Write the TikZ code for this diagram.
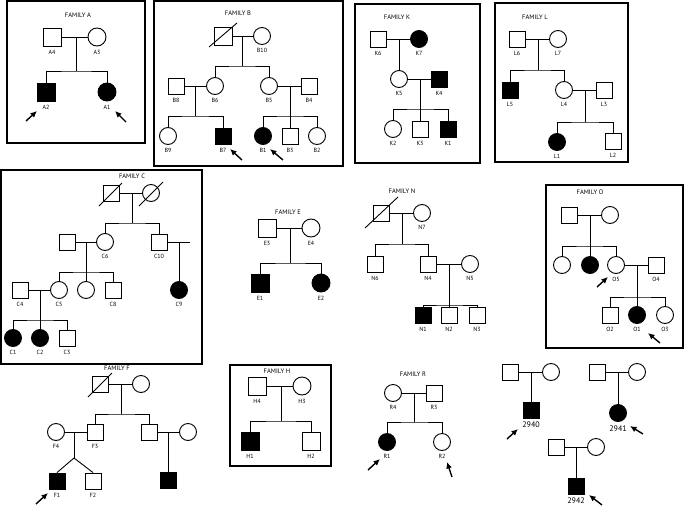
\documentclass[tikz,border=0pt]{standalone}
\usepackage{fontspec}
\setmainfont{PT Sans}
\usetikzlibrary{arrows.meta}

\begin{document}
\begin{tikzpicture}[x=1pt, y=-1pt, line width=0.9pt,
        male/.style={draw, rectangle, minimum size=16pt, inner sep=0pt},
        female/.style={draw, circle, minimum size=17pt, inner sep=0pt},
        affected/.style={fill=black},
        large/.style={minimum size=18pt},
        label distance=3pt,
        every label/.style={font=\fontsize{6}{7}\selectfont, inner sep=0pt},
        famname/.style={font=\fontsize{6.5}{7}\selectfont, inner sep=0pt},
        idnum/.style={font=\fontsize{8}{9}\selectfont},
        proband/.style={-{Latex[length=6.5pt, width=6pt]}, line width=1.4pt},
        famBox/.style={draw, line width=1.1pt}]

    \useasboundingbox (0,0) rectangle (685,506);

    % Family A
    \draw[famBox] (7,1) rectangle (145,143);
    \node[famname] (famA) at (78,15) {FAMILY A};
    \node[male, large, label=below:A4] (a4) at (52,37) {};
    \node[female, large, label=below:A3] (a3) at (97,37) {};
    \node[male, large, affected, label=below:A2] (a2) at (46,92) {};
    \node[female, large, affected, label=below:A1] (a1) at (107,92) {};
    \coordinate (a43) at (76,37);
    \coordinate (asib) at (76,71);
    \draw (a4) -- (a3);
    \draw (a43) -- (asib);
    \draw (a2) |- (asib) -| (a1);
    \draw[proband] ([shift={(-20,29)}]a2.center) -- ([shift={(-9,19)}]a2.center);
    \draw[proband] ([shift={(19,30)}]a1.center) -- ([shift={(8,19)}]a1.center);

    % Family B
    \draw[famBox] (154,1) rectangle (343,166);
    \node[famname] (famB) at (238,13) {FAMILY B};
    \node[male, large] (b11) at (223,36) {};
    \draw ([shift={(-14,11)}]b11.center) -- ([shift={(14,-13)}]b11.center);
    \node[female, label=below:B10] (b10) at (262,36) {};
    \node[female, label=below:B6] (b6) at (215,86) {};
    \node[female, label=below:B5] (b5) at (269,86) {};
    \node[male, label=below:B8] (b8) at (176,86) {};
    \node[male, label=below:B4] (b4) at (309,86) {};
    \node[female, label=below:B9] (b9) at (168,136) {};
    \node[male, affected, label=below:B7] (b7) at (223,136) {};
    \node[female, affected, label=below:B1] (b1) at (263,136) {};
    \node[male, label=below:B3] (b3) at (290,136) {};
    \node[female, label=below:B2] (b2) at (317,136) {};
    \coordinate (b1110) at (242,36);
    \coordinate (bsib1) at (242,66);
    \coordinate (b86) at (195,86);
    \coordinate (bsib2) at (195,116);
    \coordinate (b54) at (290,86);
    \coordinate (bsib3) at (290,116);
    \draw (b11) -- (b10);
    \draw (b1110) -- (bsib1);
    \draw (b6) |- (bsib1) -| (b5);
    \draw (b8) -- (b6);
    \draw (b5) -- (b4);
    \draw (b86) -- (bsib2);
    \draw (b9) |- (bsib2) -| (b7);
    \draw (b54) -- (b3);
    \draw (b1) |- (bsib3) -| (b2);
    \draw[proband] ([shift={(19,24)}]b7.center) -- ([shift={(7,13)}]b7.center);
    \draw[proband] ([shift={(20,24)}]b1.center) -- ([shift={(7,13)}]b1.center);

    % Family K
    \draw[famBox] (355,4) rectangle (480,163);
    \node[famname] (famK) at (397,17) {FAMILY K};
    \node[male, label=below:K6] (k6) at (378,39) {};
    \node[female, affected, label=below:K7] (k7) at (419,39) {};
    \node[female, label=below:K5] (k5) at (399,79) {};
    \node[male, affected, label=below:K4] (k4) at (439,79) {};
    \node[female, label=below:K2] (k2) at (393,129) {};
    \node[male, label=below:K3] (k3) at (420,129) {};
    \node[male, affected, label=below:K1] (k1) at (448,129) {};
    \coordinate (k67) at (399,39);
    \coordinate (k54) at (420,79);
    \coordinate (ksib) at (420,109);
    \draw (k6) -- (k7);
    \draw (k67) -- (k5);
    \draw (k5) -- (k4);
    \draw (k54) -- (k3);
    \draw (k2) |- (ksib) -| (k1);

    % Family L
    \draw[famBox] (495,3) rectangle (628,162);
    \node[famname] (famL) at (535,17) {FAMILY L};
    \node[male, label=below:L6] (l6) at (517,39) {};
    \node[female, label=below:L7] (l7) at (558,39) {};
    \node[male, affected, label=below:L5] (l5) at (510,90) {};
    \node[female, label=below:L4] (l4) at (564,90) {};
    \node[male, label=below:L3] (l3) at (604,90) {};
    \node[female, affected, label=below:L1] (l1) at (557,142) {};
    \node[male, label=below:L2] (l2) at (613,141) {};
    \coordinate (l67) at (538,39);
    \coordinate (lsib1) at (538,70);
    \coordinate (l43) at (585,90);
    \coordinate (lsib2) at (585,122);
    \draw (l6) -- (l7);
    \draw (l67) -- (lsib1);
    \draw (l5) |- (lsib1) -| (l4);
    \draw (l4) -- (l3);
    \draw (l43) -- (lsib2);
    \draw (l1) |- (lsib2) -| (l2);

    % Family C
    \draw[famBox] (1,170) rectangle (202,364);
    \node[famname] (famC) at (132,176) {FAMILY C};
    \node[male] (c12) at (111,193) {};
    \draw ([shift={(-12,13)}]c12.center) -- ([shift={(11,-10)}]c12.center);
    \node[female] (c11) at (151,193) {};
    \draw ([shift={(-12,13)}]c11.center) -- ([shift={(12,-11)}]c11.center);
    \node[male] (c7) at (67,242) {};
    \node[female, label=below:C6] (c6) at (105,242) {};
    \node[male, label=below:C10] (c10) at (159,242) {};
    \node[male, label=below:C4] (c4) at (20,290) {};
    \node[female, label=below:C5] (c5) at (59,290) {};
    \node[female] (c0) at (86,290) {};
    \node[male, label=below:C8] (c8) at (113,290) {};
    \node[female, affected, label=below:C9] (c9) at (179,290) {};
    \node[female, affected, label=below:C1] (c1) at (13,338) {};
    \node[female, affected, label=below:C2] (c2) at (40,338) {};
    \node[male, label=below:C3] (c3) at (67,338) {};
    \coordinate (c1211) at (132,193);
    \coordinate (csib1) at (132,223);
    \coordinate (c76) at (86,242);
    \coordinate (csib2) at (86,272);
    \coordinate (c10d) at (179,242);
    \coordinate (c10sp) at (190,242);
    \coordinate (c45) at (40,290);
    \coordinate (csib3) at (40,320);
    \draw (c12) -- (c11);
    \draw (c1211) -- (csib1);
    \draw (c6) |- (csib1) -| (c10);
    \draw (c7) -- (c6);
    \draw (c76) -- (c0);
    \draw (c5) |- (csib2) -| (c8);
    \draw (c10) -- (c10sp);
    \draw (c10d) -- (c9);
    \draw (c4) -- (c5);
    \draw (c45) -- (c2);
    \draw (c1) |- (csib3) -| (c3);

    % Family E
    \node[famname] (famE) at (288,212) {FAMILY E};
    \node[male, large, label=below:E3] (e3) at (267,228) {};
    \node[female, large, label=below:E4] (e4) at (311,228) {};
    \node[male, large, affected, label=below:E1] (e1) at (260,283) {};
    \node[female, large, affected, label=below:E2] (e2) at (321,283) {};
    \coordinate (e34) at (290,228);
    \coordinate (esib) at (290,263);
    \draw (e3) -- (e4);
    \draw (e34) -- (esib);
    \draw (e1) |- (esib) -| (e2);

    % Family N
    \node[famname] (famN) at (402,191) {FAMILY N};
    \node[male] (n8) at (381,213) {};
    \draw ([shift={(-16,15)}]n8.center) -- ([shift={(17,-16)}]n8.center);
    \node[female, label=below:N7] (n7) at (422,213) {};
    \node[male, label=below:N6] (n6) at (375,264) {};
    \node[male, label=below:N4] (n4) at (428,264) {};
    \node[female, label=below:N5] (n5) at (470,264) {};
    \node[male, affected, label=below:N1] (n1) at (423,315) {};
    \node[male, label=below:N2] (n2) at (449,315) {};
    \node[male, label=below:N3] (n3) at (477,315) {};
    \coordinate (n87) at (402,213);
    \coordinate (nsib1) at (402,244);
    \coordinate (n45) at (449,264);
    \coordinate (nsib2) at (449,305);
    \draw (n8) -- (n7);
    \draw (n87) -- (nsib1);
    \draw (n6) |- (nsib1) -| (n4);
    \draw (n4) -- (n5);
    \draw (n45) -- (n2);
    \draw (n1) |- (nsib2) -| (n3);

    % Family O
    \draw[famBox] (546,185) rectangle (683,348);
    \node[famname] (famO) at (590,192) {FAMILY O};
    \node[male] (o7) at (569,215) {};
    \node[female] (o6) at (610,215) {};
    \node[female] (o9) at (562,265) {};
    \node[female, affected] (o8) at (590,265) {};
    \node[female, label=below:O5] (o5) at (616,265) {};
    \node[male, label=below:O4] (o4) at (656,265) {};
    \node[male, label=below:O2] (o2) at (610,315) {};
    \node[female, affected, label=below:O1] (o1) at (637,315) {};
    \node[female, label=below:O3] (o3) at (665,315) {};
    \coordinate (o76) at (590,215);
    \coordinate (osib1) at (590,246);
    \coordinate (o54) at (637,265);
    \coordinate (osib2) at (637,297);
    \draw (o7) -- (o6);
    \draw (o76) -- (o8);
    \draw (o9) |- (osib1) -| (o5);
    \draw (o5) -- (o4);
    \draw (o54) -- (o1);
    \draw (o2) |- (osib2) -| (o3);
    \draw[proband] ([shift={(-19,22)}]o5.center) -- ([shift={(-8,12)}]o5.center);
    \draw[proband] ([shift={(23,28)}]o1.center) -- ([shift={(11,18)}]o1.center);

    % Family F
    \node[famname] (famF) at (117,368) {FAMILY F};
    \node[male] (f8) at (100,384) {};
    \draw ([shift={(-12,13)}]f8.center) -- ([shift={(12,-11)}]f8.center);
    \node[female] (f9) at (141,384) {};
    \node[female, label=below:F4] (f4) at (56,432) {};
    \node[male, label=below:F3] (f3) at (95,432) {};
    \node[male] (f5) at (149,432) {};
    \node[female] (f6) at (188,432) {};
    \node[male, affected, label=below:F1] (f1) at (57,481) {};
    \node[male, label=below:F2] (f2) at (93,481) {};
    \node[male, affected] (f7) at (168,480) {};
    \coordinate (f89) at (121,384);
    \coordinate (fsib) at (121,414);
    \coordinate (f43) at (74,432);
    \coordinate (ftwin) at (74,458);
    \coordinate (f56) at (168,432);
    \draw (f8) -- (f9);
    \draw (f89) -- (fsib);
    \draw (f3) |- (fsib) -| (f5);
    \draw (f4) -- (f3);
    \draw (f43) -- (ftwin);
    \draw (ftwin) -- (f1.north);
    \draw (ftwin) -- (f2.north);
    \draw (f5) -- (f6);
    \draw (f56) -- (f7);
    \draw[proband] ([shift={(-21,23)}]f1.center) -- ([shift={(-9,12)}]f1.center);

    % Family H
    \draw[famBox] (230,365) rectangle (331,466);
    \node[famname] (famH) at (277,371) {FAMILY H};
    \node[male, large, label=below:H4] (h4) at (257,386) {};
    \node[female, large, label=below:H3] (h3) at (302,386) {};
    \node[male, large, affected, label=below:H1] (h1) at (250,441) {};
    \node[male, large, label=below:H2] (h2) at (311,441) {};
    \coordinate (h43) at (281,386);
    \coordinate (hsib) at (281,421);
    \draw (h4) -- (h3);
    \draw (h43) -- (hsib);
    \draw (h1) |- (hsib) -| (h2);

    % Family R
    \node[famname] (famR) at (413,374) {FAMILY R};
    \node[female, label=below:R4] (r4) at (393,393) {};
    \node[male, label=below:R3] (r3) at (434,393) {};
    \node[female, affected, label=below:R1] (r1) at (387,442) {};
    \node[female, label=below:R2] (r2) at (442,442) {};
    \coordinate (r43) at (414,393);
    \coordinate (rsib) at (414,422);
    \draw (r4) -- (r3);
    \draw (r43) -- (rsib);
    \draw (r1) |- (rsib) -| (r2);
    \draw[proband] ([shift={(-19,28)}]r1.center) -- ([shift={(-7,17)}]r1.center);
    \draw[proband] ([shift={(10,35)}]r2.center) -- ([shift={(5,20)}]r2.center);

    % Trios
    \node[male] (t1f) at (510,372) {};
    \node[female] (t1m) at (551,372) {};
    \node[male, affected, label={[idnum]below:2940}] (p2940) at (531,410) {};
    \coordinate (t1c) at (531,372);
    \draw (t1f) -- (t1m);
    \draw (t1c) -- (p2940);
    \draw[proband] ([shift={(-24,29)}]p2940.center) -- ([shift={(-13,19)}]p2940.center);

    \node[male] (t2f) at (597,372) {};
    \node[female] (t2m) at (637,372) {};
    \node[female, affected, label={[idnum]below:2941}] (p2941) at (618,413) {};
    \coordinate (t2c) at (618,372);
    \draw (t2f) -- (t2m);
    \draw (t2c) -- (p2941);
    \draw[proband] ([shift={(25,21)}]p2941.center) -- ([shift={(12,13)}]p2941.center);

    \node[male] (t3f) at (556,447) {};
    \node[female] (t3m) at (596,447) {};
    \node[male, affected, label={[idnum]below:2942}] (p2942) at (576,486) {};
    \coordinate (t3c) at (576,447);
    \draw (t3f) -- (t3m);
    \draw (t3c) -- (p2942);
    \draw[proband] ([shift={(26,19)}]p2942.center) -- ([shift={(13,9)}]p2942.center);
\end{tikzpicture}
\end{document}
